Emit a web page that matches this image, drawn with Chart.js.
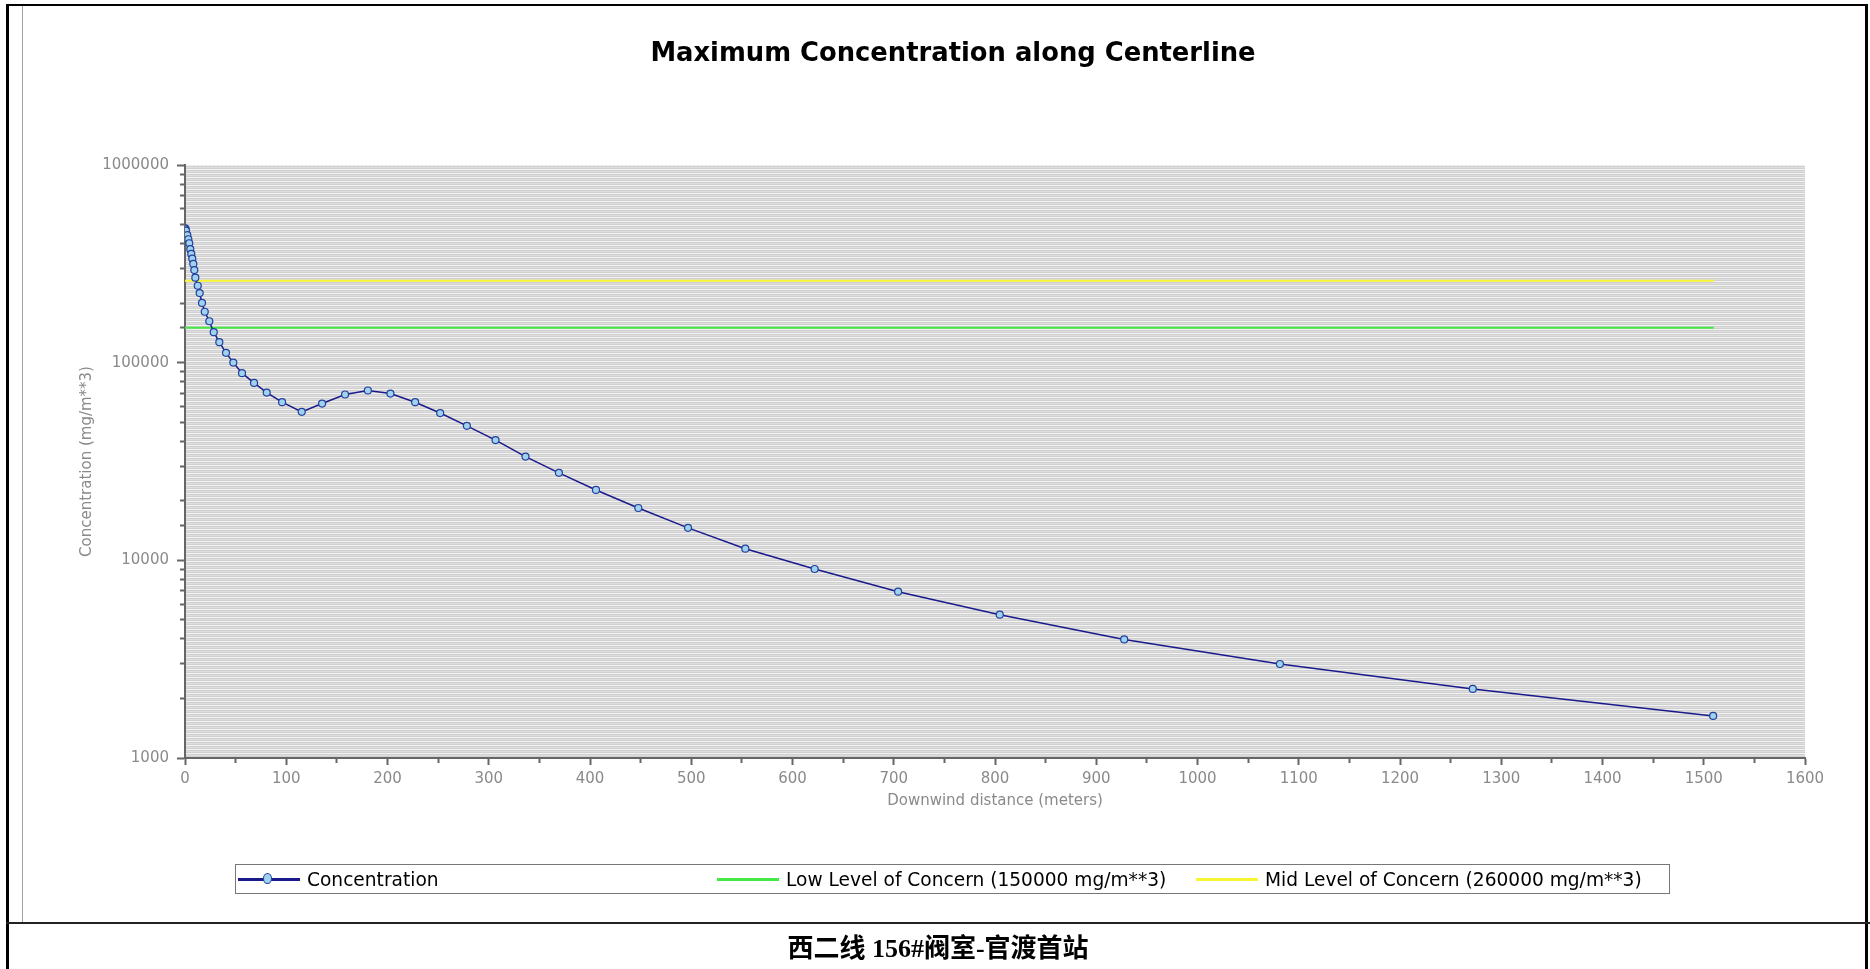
<!DOCTYPE html>
<html>
<head>
<meta charset="utf-8">
<script src="https://cdn.jsdelivr.net/npm/chart.js@4.4.1/dist/chart.umd.min.js"></script>
<style>
    body { margin: 0; background: #fff; }
    #page { position: relative; width: 1870px; height: 969px; overflow: hidden; }
    #frame { position: absolute; left: 6px; top: 4px; width: 1856px; height: 980px;
        border-left: 3px solid #000; border-top: 2px solid #000; border-right: 3px solid #000; }
    #inner { position: absolute; left: 22px; top: 6px; width: 1px; height: 916px; background: #a0a0a0; }
    #sep { position: absolute; left: 6px; top: 922px; width: 1864px; height: 2px; background: #222; }
    #graphAPI { position: absolute; left: 0; top: 0; }
    #title { position: absolute; left: 953px; top: 37px; transform: translateX(-50%); white-space: nowrap;
        font: bold 25.8px/30px "DejaVu Sans", sans-serif; color: #000; }
    #caption { position: absolute; left: 938px; top: 934px; transform: translateX(-50%); white-space: nowrap;
        font: bold 26px/30px "Liberation Serif", "Noto Sans CJK SC", serif; color: #000; }
    #legend { position: absolute; left: 235px; top: 864px; width: 1433px; height: 28px; border: 1px solid #777;
        display: grid; grid-template-columns: 479px 479px auto; align-items: center;
        font: 18.6px "DejaVu Sans", sans-serif; color: #000; }
    .item { display: flex; align-items: center; padding-left: 2px; }
    .swatch { position: relative; width: 62px; height: 3px; margin-right: 7px; flex: none; }
    .dot { position: absolute; left: 25px; top: -5px; width: 9px; height: 11px; border-radius: 50%; box-sizing: border-box; border: 1.5px solid; }
</style>
</head>
<body>
<div id="page">
    <div id="frame"></div>
    <div id="inner"></div>
    <div id="sep"></div>
    <canvas id="graphAPI" width="1870" height="969"></canvas>
    <div id="title">Maximum Concentration along Centerline</div>
    <div id="legend"></div>
    <div id="caption">西二线 156#阀室-官渡首站</div>
</div>
<script>
// downwind distance (m) and max concentration (mg/m**3)
const distance = [0.3, 0.6, 1, 2.3, 3.3, 4.2, 5.2, 6.2, 7.2, 8.2, 9.2, 10.2, 12.6, 14.5, 16.8, 19.5, 24, 28.4, 33.9,
    40.5, 47.7, 56.3, 68.2, 80.7, 95.9, 115.3, 135.4, 158.1, 180.6, 202.9, 227.3, 252, 278.4, 306.7, 336.3, 369.3,
    405.9, 447.7, 496.8, 553.4, 621.9, 704.3, 804.7, 927.6, 1081.4, 1271.9, 1509.3];
const concentration = [478000, 472000, 465000, 442000, 421000, 402000, 375000, 355000, 336000, 316000, 294000, 269000,
    245000, 225000, 200500, 181000, 162000, 142600, 126900, 112100, 100100, 88500, 79000, 70600, 63100, 56400,
    62100, 69000, 72300, 69800, 63100, 55600, 47900, 40600, 33500, 27700, 22700, 18400, 14600, 11450, 9040,
    6940, 5310, 3980, 2990, 2235, 1633];

// levels of concern, drawn over the modelled distance
const levelX = [0, 1510];
const lowLevel = 150000;
const midLevel = 260000;

const xTicks = { min: 0, max: 1600, step: 50 };
const yTicks = { min: 1000, max: 1000000 };

const isDecade = (v) => /^10+$/.test(String(v));

let points = distance.map((d, i) => ({ x: d, y: concentration[i] }));
let flat = (lvl) => levelX.map(x => ({ x: x, y: lvl }));

// striped plot background
const stripeFill = () => {
    const c = document.createElement('canvas');
    c.width = 4; c.height = 4;
    const g = c.getContext('2d');
    ['#d0d0d0', '#f3f3f3', '#d0d0d0', '#dedede'].forEach((col, i) => {
        g.fillStyle = col;
        g.fillRect(0, i, 4, 1);
    });
    return c;
}

const stripes = {
    id: 'stripes',
    beforeDraw(chart) {
        const {ctx, chartArea: a} = chart;
        ctx.save();
        ctx.fillStyle = ctx.createPattern(stripeFill(), 'repeat');
        ctx.fillRect(a.left, a.top, a.right - a.left, a.bottom - a.top);
        ctx.strokeStyle = '#e8e8e8';
        ctx.setLineDash([2, 2]);
        ctx.beginPath();
        ctx.moveTo(a.left, a.top + 0.5);
        ctx.lineTo(a.right, a.top + 0.5);
        ctx.stroke();
        ctx.restore();
    }
}

const tickFont = { family: 'DejaVu Sans', size: 15 };
const titleFont = { family: 'DejaVu Sans', size: 15 };

const data = {
    datasets: [{
        label: 'Concentration',
        data: points,
        borderColor: '#1a1a8c',
        borderWidth: 1.5,
        pointRadius: 3.5,
        pointBackgroundColor: '#9fd2ef',
        pointBorderColor: '#24409c',
        pointBorderWidth: 1.2,
        order: 0
    }, {
        label: 'Low Level of Concern (150000 mg/m**3)',
        data: flat(lowLevel),
        borderColor: '#46e846',
        borderWidth: 2,
        pointRadius: 0,
        order: 1
    }, {
        label: 'Mid Level of Concern (260000 mg/m**3)',
        data: flat(midLevel),
        borderColor: '#f5f531',
        borderWidth: 2,
        pointRadius: 0,
        order: 2
    }]
};

const config = {
    type: 'line',
    data: data,
    plugins: [stripes],
    options: {
        responsive: false,
        animation: false,
        devicePixelRatio: 1,
        layout: { padding: { left: 20, right: 65, top: 165, bottom: 151 } },
        plugins: { legend: { display: false }, tooltip: { enabled: false } },
        elements: { line: { tension: 0 } },
        scales: {
            x: {
                type: 'linear',
                min: xTicks.min,
                max: xTicks.max,
                border: { color: '#666', width: 2 },
                grid: {
                    drawOnChartArea: false,
                    tickLength: 7,
                    tickColor: '#666',
                    tickWidth: 2,
                    tickBorderDash: (ctx) => (ctx.tick && ctx.tick.value % 100 !== 0) ? [4, 20] : []
                },
                ticks: {
                    stepSize: xTicks.step,
                    autoSkip: false,
                    maxRotation: 0,
                    padding: 5,
                    color: '#8a8a8a',
                    font: tickFont,
                    callback: (v) => v % 100 === 0 ? String(v) : ''
                },
                title: { display: true, text: 'Downwind distance (meters)', color: '#8a8a8a', font: titleFont, padding: { top: 0, bottom: 8 } },
                afterFit: (s) => { s.height = 60; }
            },
            y: {
                type: 'logarithmic',
                min: yTicks.min,
                max: yTicks.max,
                border: { color: '#666', width: 2 },
                grid: {
                    drawOnChartArea: false,
                    tickLength: 8,
                    tickColor: '#666',
                    tickWidth: 2,
                    tickBorderDash: (ctx) => (ctx.tick && !isDecade(ctx.tick.value)) ? [0, 3, 5, 20] : []
                },
                ticks: {
                    autoSkip: false,
                    padding: 8,
                    color: '#8a8a8a',
                    font: tickFont,
                    callback: (v) => isDecade(v) ? String(v) : ''
                },
                title: { display: true, text: 'Concentration (mg/m**3)', color: '#8a8a8a', font: titleFont, padding: { top: 58, bottom: 0 } },
                afterFit: (s) => { s.width = 165; }
            }
        }
    }
};

const graphAPI = document.getElementById('graphAPI');
let chart = new Chart(graphAPI, config);

// html legend built from the datasets
const legendBox = document.getElementById('legend');
chart.data.datasets.forEach(ds => {
    const item = document.createElement('div');
    item.className = 'item';
    const sw = document.createElement('span');
    sw.className = 'swatch';
    sw.style.background = ds.borderColor;
    if (ds.pointRadius > 0) {
        sw.style.background = '#1a1a8c';
        const dot = document.createElement('span');
        dot.className = 'dot';
        dot.style.background = ds.pointBackgroundColor;
        dot.style.borderColor = ds.pointBorderColor;
        sw.appendChild(dot);
    }
    const txt = document.createElement('span');
    txt.textContent = ds.label;
    item.appendChild(sw);
    item.appendChild(txt);
    legendBox.appendChild(item);
});
</script>
</body>
</html>
